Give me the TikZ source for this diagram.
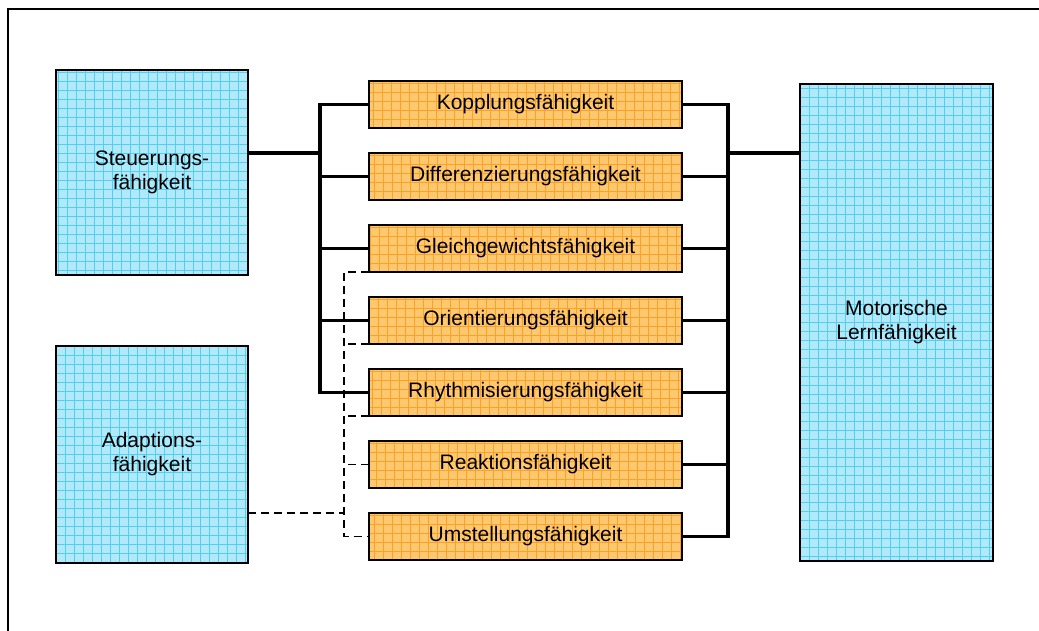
\documentclass[tikz,border=0pt]{standalone}
\usepackage{fontspec}
\setmainfont{Liberation Sans}
\usetikzlibrary{positioning}

\definecolor{boxorange}{RGB}{255,200,110}
\definecolor{gridorange}{RGB}{250,162,40}
\definecolor{boxblue}{RGB}{176,234,250}
\definecolor{gridblue}{RGB}{84,206,240}

\begin{document}
\begin{tikzpicture}[x=1pt, y=-1pt,
font=\fontsize{21}{24}\selectfont,
ability/.style={draw, line width=1.6pt, fill=boxorange, rectangle, outer sep=0pt,
  minimum width=313pt, minimum height=47pt, inner sep=0pt,
  path picture={\draw[gridorange, line width=0.8pt] (path picture bounding box.south west) grid[step=9pt] (path picture bounding box.north east);}},
bigbox/.style={draw, line width=1.6pt, fill=boxblue, rectangle, outer sep=0pt,
  minimum width=192pt, align=center, inner sep=0pt,
  path picture={\draw[gridblue, line width=0.8pt] (path picture bounding box.south west) grid[step=9pt] (path picture bounding box.north east);}},
bus/.style={line width=3.4pt},
weak/.style={line width=1.6pt, dash pattern=on 8pt off 5pt}]

\useasboundingbox (0,0) rectangle (1039,631);
\draw[line width=2pt] (8,631) -- (8,9) -- (1039,9);

\node[bigbox, minimum height=205pt]	(steu) at (152,172.5)	{Steuerungs-\\fähigkeit};
\node[bigbox, minimum height=217pt]	(ada) at (152,454.5)	{Adaptions-\\fähigkeit};
\node[bigbox, minimum width=193pt, minimum height=477pt]	(mot) at (896.5,322.5)	{Motorische\\Lernfähigkeit};

\node[ability]			(kop) at (525.5,104.5)	{Kopplungsfähigkeit};
\node[ability, below=25pt of kop]	(dif)	{Differenzierungsfähigkeit};
\node[ability, below=25pt of dif]	(gle)	{Gleichgewichtsfähigkeit};
\node[ability, below=25pt of gle]	(ori)	{Orientierungsfähigkeit};
\node[ability, below=25pt of ori]	(rhy)	{Rhythmisierungsfähigkeit};
\node[ability, below=25pt of rhy]	(rea)	{Reaktionsfähigkeit};
\node[ability, below=25pt of rea]	(ums)	{Umstellungsfähigkeit};

\coordinate (lbus) at (320,153);
\coordinate (rbus) at (728,153);
\coordinate (dbus) at (344,513);

% Steuerung
\draw[bus] (steu.east |- lbus) -- (lbus);
\draw[bus] (kop.west) -| (lbus) |- (rhy.west);
\foreach \n in {dif,gle,ori}
  \draw[bus] (\n.west) -- (\n.west -| lbus);

% Lernfaehigkeit
\draw[bus] (kop.east) -| (rbus) |- (ums.east);
\draw[bus] (rbus) -- (mot.west |- rbus);
\foreach \n in {dif,gle,ori,rhy,rea}
  \draw[bus] (\n.east) -- (\n.east -| rbus);

% Adaption
\draw[weak] (gle.south west) -| (dbus) |- (ums.west);
\draw[weak] (ada.east |- dbus) -- (dbus);
\foreach \n in {ori,rhy}
  \draw[weak] (\n.south west) -- (\n.south west -| dbus);
\draw[weak] (rea.west) -- (rea.west -| dbus);

\end{tikzpicture}
\end{document}
